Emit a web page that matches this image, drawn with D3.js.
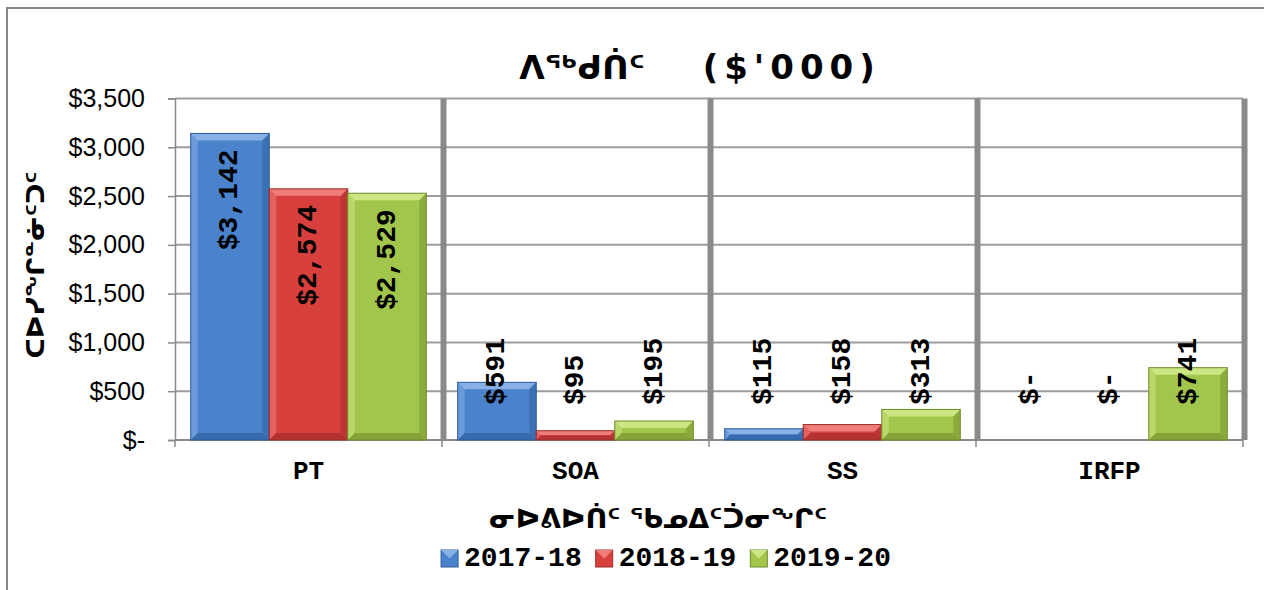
<!DOCTYPE html>
<html>
  <head>
    <meta charset="utf-8">
    <script src="https://d3js.org/d3.v7.min.js"></script>
    <title>ᐱᖅᑯᑏᑦ ($'000)</title>
    <style>
      body { margin: 0; background: #fff; }
      svg { display: block; }
    </style>
  </head>
  <body>
    <svg width="1264" height="590"></svg>
    <script>
      // chart data
      const categories = ['PT', 'SOA', 'SS', 'IRFP'];
      const years = ['2017-18', '2018-19', '2019-20'];
      const values2017 = [3142, 591, 115, 0];
      const values2018 = [2574, 95, 158, 0];
      const values2019 = [2529, 195, 313, 741];
      const yTicks = [0, 500, 1000, 1500, 2000, 2500, 3000, 3500];
      const titleText = 'ᐱᖅᑯᑏᑦ';
      const titleUnit = "($'000)";
      const xTitle = 'ᓂᐅᕕᐅᑏᑦ ᖃᓄᐃᑦᑑᓂᖏᑦ';
      const yTitle = 'ᑕᐅᓯᖏᓐᓃᑦᑐᑦ';

      const series = [values2017, values2018, values2019];

      const palette = [
        { base: '#4a82cc', light: '#86b0e6', dark: '#2c5b98' },
        { base: '#d8403d', light: '#ef7e7a', dark: '#9c2c29' },
        { base: '#a2c64c', light: '#cde684', dark: '#6f8c2c' }
      ];

      const svg = d3.select('svg');
      const plot = { left: 175, right: 1243, top: 98.5, bottom: 440 };

      // outer frame
      svg.append('rect')
          .attr('x', 7).attr('y', 8)
          .attr('width', 1280).attr('height', 620)
          .attr('fill', 'none')
          .attr('stroke', '#878787')
          .attr('stroke-width', 2);

      const x = d3.scaleBand()
        .domain(categories)
        .range([plot.left, plot.right]);

      const xInner = d3.scaleBand()
        .domain(years)
        .range([0, x.bandwidth()])
        .paddingInner(0)
        .paddingOuter(0.2);

      const y = d3.scaleLinear()
        .domain([0, 3500])
        .range([plot.bottom, plot.top]);

      // horizontal gridlines
      svg.append('g').selectAll('line')
        .data(yTicks.filter(d => d > 0))
        .join('line')
          .attr('x1', plot.left).attr('x2', plot.right)
          .attr('y1', d => y(d)).attr('y2', d => y(d))
          .attr('stroke', '#9d9d9d')
          .attr('stroke-width', 2);

      // thick category separators
      const seps = categories.slice(1).map(c => x(c)).concat([plot.right]);
      svg.append('g').selectAll('line')
        .data(seps)
        .join('line')
          .attr('x1', d => d + 1.5).attr('x2', d => d + 1.5)
          .attr('y1', plot.top).attr('y2', plot.bottom)
          .attr('stroke', '#8a8a8a')
          .attr('stroke-width', 6);

      // y axis
      const fmt = d3.format(',');
      const money = v => v === 0 ? '$-' : '$' + fmt(v);
      const yAxis = svg.append('g')
          .attr('transform', `translate(${plot.left},0)`)
          .call(d3.axisLeft(y).tickValues(yTicks).tickFormat(money)
            .tickSize(7).tickPadding(23));
      yAxis.selectAll('line, path').attr('stroke', '#8a8a8a').attr('stroke-width', 1.5);
      yAxis.selectAll('text')
          .attr('fill', '#000')
          .style('font-family', '"Liberation Sans", Arial, sans-serif')
          .style('font-size', '25px');

      // x axis line and ticks between categories
      svg.append('line')
          .attr('x1', plot.left).attr('x2', plot.right)
          .attr('y1', plot.bottom).attr('y2', plot.bottom)
          .attr('stroke', '#8a8a8a').attr('stroke-width', 2);
      svg.append('g').selectAll('line')
        .data(categories.map(c => x(c)).concat([plot.right]))
        .join('line')
          .attr('x1', d => d).attr('x2', d => d)
          .attr('y1', plot.bottom).attr('y2', plot.bottom + 7)
          .attr('stroke', '#8a8a8a').attr('stroke-width', 1.5);

      svg.append('g').selectAll('text')
        .data(categories)
        .join('text')
          .attr('x', d => x(d) + x.bandwidth() / 2)
          .attr('y', 479)
          .attr('text-anchor', 'middle')
          .style('font-family', '"Liberation Mono", "Courier New", monospace')
          .style('font-weight', 'bold')
          .style('font-size', '26px')
          .text(d => d);

      // bars with a bevel look
      const bars = [];
      series.forEach((vals, si) => {
        vals.forEach((v, ci) => {
          bars.push({ si, ci, v, cat: categories[ci], year: years[si] });
        });
      });

      const barG = svg.append('g');
      bars.filter(d => d.v > 0).forEach(d => {
        const bx = x(d.cat) + xInner(d.year);
        const bw = xInner.bandwidth();
        const by = y(d.v);
        const bh = y(0) - by;
        const b = Math.min(7, bh / 2);
        const c = palette[d.si];
        const g = barG.append('g');
        g.append('rect')
            .attr('x', bx).attr('y', by).attr('width', bw).attr('height', bh)
            .attr('fill', c.base);
        g.append('polygon')
            .attr('points', [[bx, by], [bx + bw, by], [bx + bw - b, by + b], [bx + b, by + b]].join(' '))
            .attr('fill', c.light);
        g.append('polygon')
            .attr('points', [[bx, by], [bx + b, by + b], [bx + b, by + bh - b], [bx, by + bh]].join(' '))
            .attr('fill', c.light).attr('opacity', 0.55);
        g.append('polygon')
            .attr('points', [[bx + bw, by], [bx + bw - b, by + b], [bx + bw - b, by + bh - b], [bx + bw, by + bh]].join(' '))
            .attr('fill', c.dark).attr('opacity', 0.45);
        g.append('polygon')
            .attr('points', [[bx, by + bh], [bx + b, by + bh - b], [bx + bw - b, by + bh - b], [bx + bw, by + bh]].join(' '))
            .attr('fill', c.dark).attr('opacity', 0.6);
        g.append('rect')
            .attr('x', bx).attr('y', by).attr('width', bw).attr('height', bh)
            .attr('fill', 'none').attr('stroke', c.dark).attr('stroke-width', 1);
      });

      // data labels, rotated
      const labelLen = 106;
      const lowAnchor = plot.bottom - 35;
      svg.append('g').selectAll('text')
        .data(bars)
        .join('text')
          .attr('transform', d => {
            const cx = x(d.cat) + xInner(d.year) + xInner.bandwidth() / 2;
            const inside = y(d.v) + 16 + labelLen < lowAnchor;
            const py = inside ? y(d.v) + 16 : lowAnchor;
            return `translate(${cx},${py}) rotate(-90)`;
          })
          .attr('text-anchor', d => (y(d.v) + 16 + labelLen < lowAnchor) ? 'end' : 'start')
          .attr('dominant-baseline', 'central')
          .style('font-family', '"Liberation Mono", "Courier New", monospace')
          .style('font-weight', 'bold')
          .style('font-size', '28px')
          .text(d => money(d.v));

      // title
      const title = svg.append('text')
          .attr('x', 700)
          .attr('y', 79)
          .attr('text-anchor', 'middle')
          .style('font-family', '"DejaVu Sans", sans-serif')
          .style('font-weight', 'bold');
      title.append('tspan').style('font-size', '33px').text(titleText);
      title.append('tspan')
          .attr('dx', 58)
          .style('font-size', '34px')
          .style('letter-spacing', '6px')
          .text(titleUnit);

      // axis titles
      svg.append('text')
          .attr('x', 658).attr('y', 528)
          .attr('text-anchor', 'middle')
          .style('font-family', '"DejaVu Sans", sans-serif')
          .style('font-weight', 'bold')
          .style('font-size', '27px')
          .text(xTitle);

      svg.append('text')
          .attr('transform', 'translate(44,265) rotate(-90)')
          .attr('text-anchor', 'middle')
          .style('font-family', '"DejaVu Sans", sans-serif')
          .style('font-weight', 'bold')
          .style('font-size', '25px')
          .text(yTitle);

      // legend
      const legend = svg.append('g');
      let lx = 0;
      years.forEach((yr, i) => {
        const item = legend.append('g').attr('transform', `translate(${lx},0)`);
        const c = palette[i];
        item.append('rect')
            .attr('x', 0).attr('y', -8).attr('width', 17).attr('height', 17)
            .attr('fill', c.base).attr('stroke', c.dark).attr('stroke-width', 1);
        item.append('polygon')
            .attr('points', [[0, -8], [17, -8], [8.5, 0.5]].join(' '))
            .attr('fill', c.light);
        const t = item.append('text')
            .attr('x', 23).attr('y', 0)
            .attr('dominant-baseline', 'central')
            .style('font-family', '"Liberation Mono", "Courier New", monospace')
            .style('font-weight', 'bold')
            .style('font-size', '28px')
            .text(yr);
        lx += 23 + t.node().getComputedTextLength() + 14;
      });
      const legendW = lx - 14;
      legend.attr('transform', `translate(${666 - legendW / 2},558)`);
    </script>
  </body>
</html>
